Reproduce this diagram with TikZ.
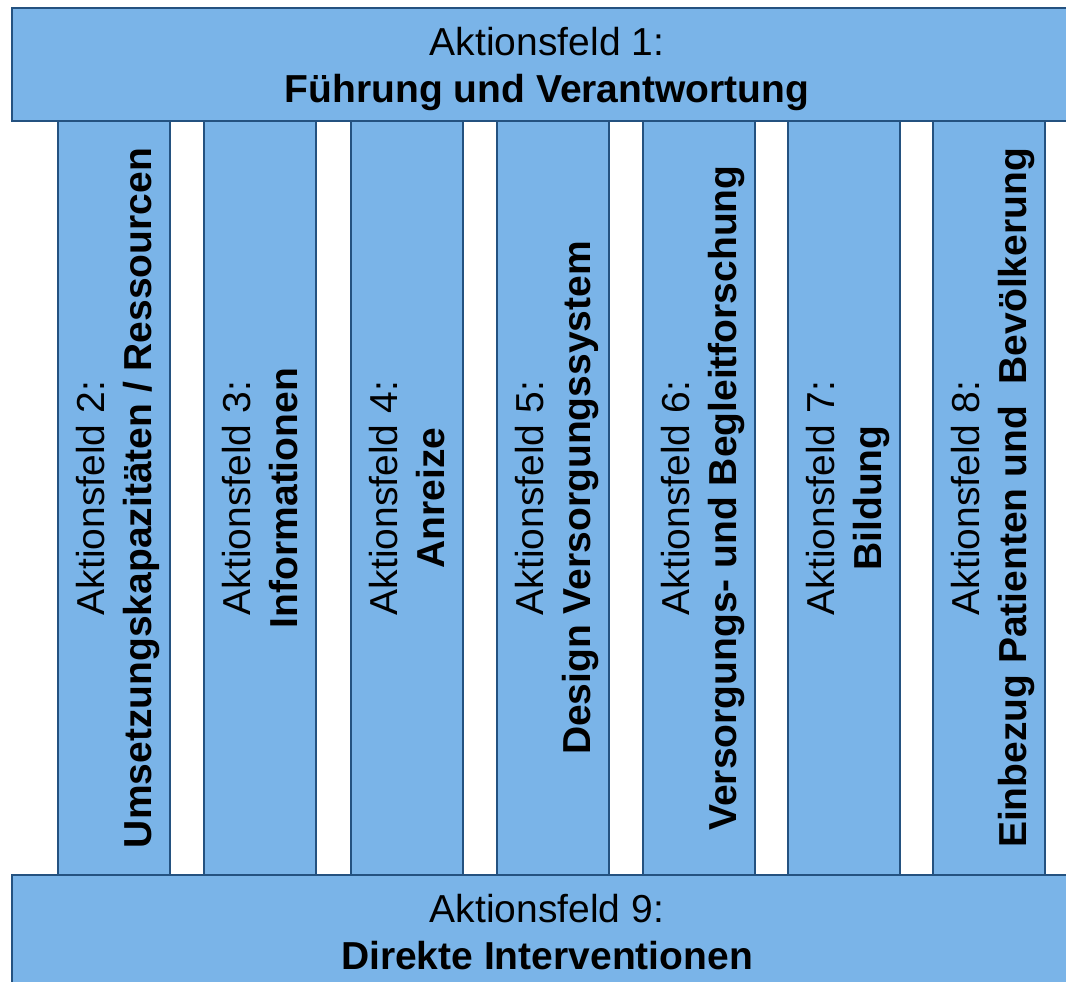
\documentclass[tikz,border=0pt]{standalone}
\usepackage{fontspec}
\setmainfont{Liberation Sans}
\definecolor{feldblau}{RGB}{122,180,232}
\definecolor{randblau}{RGB}{36,82,128}

\begin{document}
\begin{tikzpicture}[x=0.5pt, y=-0.5pt]
\tikzset{feld/.style={draw=randblau, fill=feldblau, line width=1pt, inner sep=0pt, align=center,
  text depth=0pt, font=\fontsize{19.5}{23.5}\selectfont},
  balken/.style={feld, minimum width=535pt, minimum height=56.5pt},
  saeule/.style={feld, rotate=90, minimum width=377pt, minimum height=56pt}}
\useasboundingbox (0, 0) rectangle (1066, 981);
\clip (0, 0) rectangle (1066, 981);
% Saeulen
\node[saeule] (A2) at (114, 498) {Aktionsfeld 2:\\\textbf{Umsetzungskapazitäten / Ressourcen}};
\node[saeule] (A3) at (260, 498) {Aktionsfeld 3:\\\textbf{Informationen}};
\node[saeule] (A4) at (407, 498) {Aktionsfeld 4:\\\textbf{Anreize}};
\node[saeule] (A5) at (553, 498) {Aktionsfeld 5:\\\textbf{Design Versorgungssystem}};
\node[saeule] (A6) at (699, 498) {Aktionsfeld 6:\\\textbf{Versorgungs- und Begleitforschung}};
\node[saeule] (A7) at (844, 498) {Aktionsfeld 7:\\\textbf{Bildung}};
\node[saeule] (A8) at (989, 498) {Aktionsfeld 8:\\\textbf{Einbezug Patienten und~ Bevölkerung}};
% Dach und Fundament
\node[balken] (A1) at (547, 64.5) {Aktionsfeld 1:\\\textbf{Führung und Verantwortung}};
\node[balken] (A9) at (547, 931.5) {Aktionsfeld 9:\\\textbf{Direkte Interventionen}};
\end{tikzpicture}
\end{document}
